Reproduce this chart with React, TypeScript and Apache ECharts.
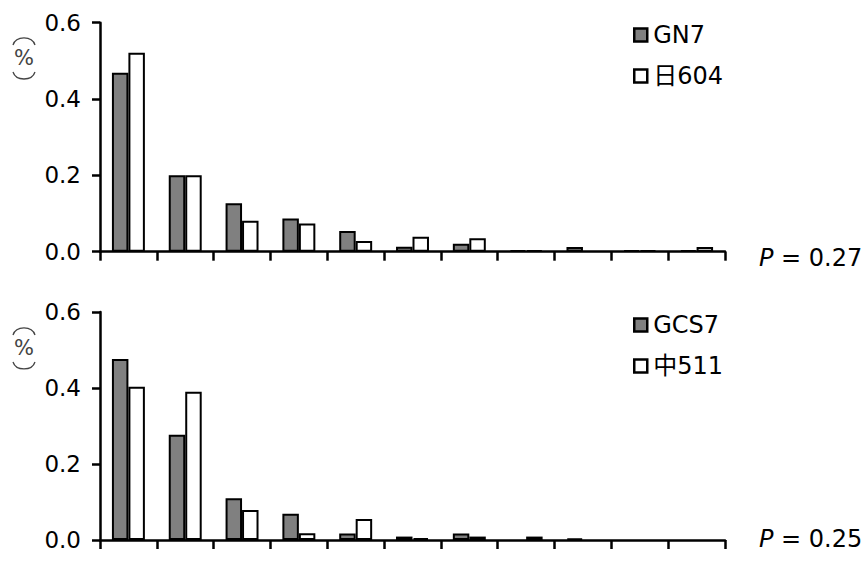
import React, { useEffect, useRef } from "react";
import * as echarts from "echarts";

const categories = ["1", "2", "3", "4", "5", "6", "7", "8", "9", "10", "11"];
const yTicks = [0, 0.2, 0.4, 0.6];

const topNames = ["GN7", "日604"];
const topGray = [0.469, 0.2, 0.127, 0.087, 0.054, 0.013, 0.021, 0.004, 0.012, 0.004, 0.004];
const topWhite = [0.521, 0.2, 0.081, 0.074, 0.028, 0.039, 0.035, 0.004, 0, 0.004, 0.012];
const topP = "0.27";

const botNames = ["GCS7", "中511"];
const botGray = [0.476, 0.277, 0.11, 0.069, 0.017, 0.009, 0.017, 0, 0.004, 0, 0];
const botWhite = [0.403, 0.39, 0.079, 0.018, 0.055, 0.005, 0.009, 0.009, 0, 0, 0];
const botP = "0.25";

const FONT = "'DejaVu Sans', 'Noto Sans CJK SC', sans-serif";

export default function App() {
  const ref = useRef<HTMLDivElement>(null);
  useEffect(() => {
    if (!ref.current) return;
    const chart = echarts.init(ref.current, null, { renderer: "svg" });
    const grids = [
      { left: 100, top: 22.7, width: 625, height: 229 },
      { left: 100, top: 312, width: 625, height: 228 },
    ];
    const mkX = (i: number) => ({
      type: "category",
      gridIndex: i,
      data: categories,
      axisLine: { lineStyle: { color: "#000", width: 2.5 } },
      axisTick: { show: true, length: 9, lineStyle: { color: "#000", width: 2.5 } },
      axisLabel: { show: false },
      splitLine: { show: false },
    });
    const mkY = (i: number) => ({
      type: "value",
      gridIndex: i,
      min: yTicks[0],
      max: yTicks[yTicks.length - 1],
      interval: 0.2,
      axisLine: { show: true, lineStyle: { color: "#000", width: 2.5 } },
      axisTick: { show: true, length: 8, lineStyle: { color: "#000", width: 2.5 } },
      axisLabel: {
        margin: 19,
        fontSize: 23,
        color: "#000",
        fontFamily: FONT,
        formatter: (v: number) => v.toFixed(1),
      },
      splitLine: { show: false },
    });
    const nz = (arr: number[]) => arr.map((v) => (v === 0 ? null : v));
    const mkBar = (name: string, data: number[], i: number, color: string) => ({
      type: "bar",
      name,
      xAxisIndex: i,
      yAxisIndex: i,
      data: nz(data),
      barGap: "0%",
      barCategoryGap: "42%",
      itemStyle: { color, borderColor: "#000", borderWidth: 2 },
    });
    const mkLegend = (names: string[], top: number) => ({
      data: names,
      orient: "vertical",
      left: 633,
      top,
      padding: 0,
      itemWidth: 13,
      itemHeight: 13,
      itemGap: 17,
      icon: "rect",
      itemStyle: { borderColor: "#000", borderWidth: 2.5 },
      textStyle: { fontSize: 24, lineHeight: 24, color: "#000", fontFamily: FONT, padding: [0, 0, 0, 1] },
    });
    const pctLabel = (cy: number) => [
      {
        type: "text",
        x: 24,
        y: cy,
        style: { text: "%", fontSize: 21, fill: "#444", fontFamily: FONT, align: "center", verticalAlign: "middle" },
      },
      {
        type: "bezierCurve",
        shape: { x1: 13, y1: cy - 13, cpx1: 16, cpy1: cy - 22.5, cpx2: 32, cpy2: cy - 22.5, x2: 35, y2: cy - 13 },
        style: { stroke: "#444", lineWidth: 1.3, fill: null },
      },
      {
        type: "bezierCurve",
        shape: { x1: 13, y1: cy + 14, cpx1: 16, cpy1: cy + 23.3, cpx2: 32, cpy2: cy + 23.3, x2: 35, y2: cy + 14 },
        style: { stroke: "#444", lineWidth: 1.3, fill: null },
      },
    ];
    const pLabel = (p: string, y: number) => ({
      type: "text",
      x: 759,
      y,
      style: {
        text: "{i|P} = " + p,
        fontSize: 24,
        fill: "#000",
        fontFamily: FONT,
        verticalAlign: "middle",
        rich: { i: { fontStyle: "italic", fontSize: 24, fontFamily: FONT, fill: "#000" } },
      },
    });
    chart.setOption({
      animation: false,
      backgroundColor: "#fff",
      grid: grids,
      xAxis: [mkX(0), mkX(1)],
      yAxis: [mkY(0), mkY(1)],
      legend: [mkLegend(topNames, 23), mkLegend(botNames, 313)],
      series: [
        mkBar(topNames[0], topGray, 0, "#808080"),
        mkBar(topNames[1], topWhite, 0, "#ffffff"),
        mkBar(botNames[0], botGray, 1, "#808080"),
        mkBar(botNames[1], botWhite, 1, "#ffffff"),
      ],
      graphic: [...pctLabel(58), ...pctLabel(348), pLabel(topP, 258), pLabel(botP, 539)],
    });
    return () => chart.dispose();
  }, []);
  return (
    <div
      ref={ref}
      style={{ position: "fixed", left: 0, top: 0, width: 864, height: 562, background: "#fff" }}
    />
  );
}
